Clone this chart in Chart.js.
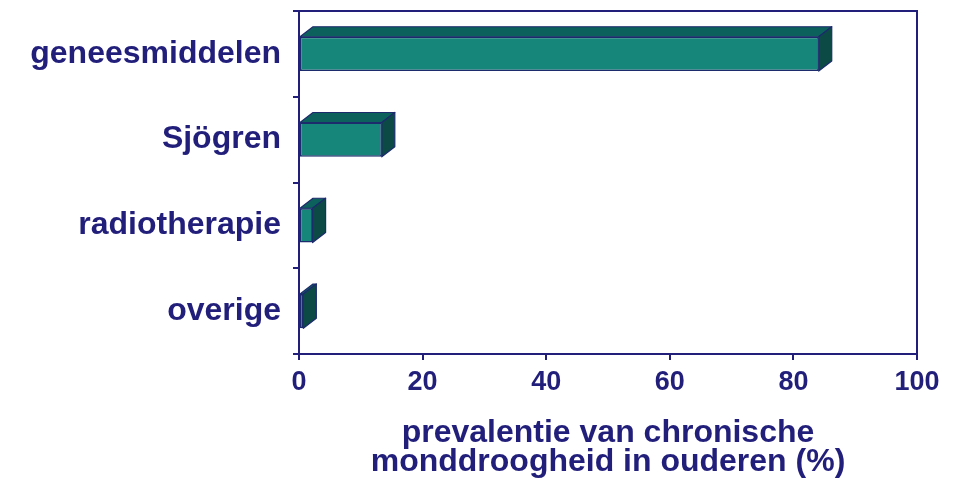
<!DOCTYPE html>
<html>
<head>
<meta charset="utf-8">
<script src="https://cdn.jsdelivr.net/npm/chart.js@4.4.1/dist/chart.umd.min.js"></script>
<style>
  html, body { margin: 0; padding: 0; background: #ffffff; }
  #wrap { width: 955px; height: 479px; }
</style>
</head>
<body>
<div id="wrap"><canvas id="droog"></canvas></div>
<script>
// data
const categories = ["geneesmiddelen", "Sjögren", "radiotherapie", "overige"];
const prevalence = [84.1, 13.4, 2.2, 0.7];
const xTicks = [0, 20, 40, 60, 80, 100];
const axisTitle = ["prevalentie van chronische", "monddroogheid in ouderen (%)"];

const navy = "#221f7b";
const front = "#17867a";
const topFace = "#0d615c";
const sideFace = "#0b4a45";
const outline = "#1c2b6c";

// fake 3d: top and side faces drawn next to each bar element
const bar3d = {
    id: "bar3d",
    afterDatasetsDraw: function (chart) {
        const ctx = chart.ctx;
        const dx = 13, dy = 10;
        chart.getDatasetMeta(0).data.forEach(function (bar) {
            const p = bar.getProps(["x", "y", "base", "height"], true);
            const t = p.y - p.height / 2;
            const b = p.y + p.height / 2;
            ctx.save();
            ctx.lineWidth = 1.2;
            ctx.strokeStyle = outline;
            ctx.lineJoin = "round";
            // top
            ctx.beginPath();
            ctx.moveTo(p.base, t);
            ctx.lineTo(p.base + dx, t - dy);
            ctx.lineTo(p.x + dx, t - dy);
            ctx.lineTo(p.x, t);
            ctx.closePath();
            ctx.fillStyle = topFace;
            ctx.fill();
            ctx.stroke();
            // side
            ctx.beginPath();
            ctx.moveTo(p.x, t);
            ctx.lineTo(p.x + dx, t - dy);
            ctx.lineTo(p.x + dx, b - dy);
            ctx.lineTo(p.x, b);
            ctx.closePath();
            ctx.fillStyle = sideFace;
            ctx.fill();
            ctx.stroke();
            ctx.restore();
        });
    },
    afterDraw: function (chart) {
        const a = chart.chartArea;
        const ctx = chart.ctx;
        ctx.save();
        ctx.strokeStyle = navy;
        ctx.lineWidth = 2;
        ctx.beginPath();
        ctx.moveTo(a.left, a.top);
        ctx.lineTo(a.right, a.top);
        ctx.lineTo(a.right, a.bottom);
        ctx.stroke();
        ctx.restore();
    },
};

document.addEventListener("DOMContentLoaded", (event) => {
    var ctx = document.getElementById("droog").getContext("2d");
    new Chart(ctx, {
        type: "bar",
        data: {
            labels: categories,
            datasets: [
                {
                    data: prevalence,
                    backgroundColor: front,
                    borderColor: outline,
                    borderWidth: 1.5,
                    borderSkipped: false,
                    categoryPercentage: 1,
                    barPercentage: 0.4,
                },
            ],
        },
        options: {
            indexAxis: "y",
            responsive: true,
            maintainAspectRatio: false,
            animation: false,
            layout: {
                padding: { top: 11, right: 38, left: 0, bottom: 0 },
            },
            scales: {
                x: {
                    min: 0,
                    max: 100,
                    afterBuildTicks: function (scale) {
                        scale.ticks = xTicks.map((v) => ({ value: v }));
                    },
                    afterFit: function (scale) {
                        scale.height = 125;
                    },
                    grid: {
                        drawOnChartArea: false,
                        drawTicks: true,
                        tickLength: 6,
                        color: navy,
                        lineWidth: 2,
                    },
                    border: { color: navy, width: 2 },
                    ticks: {
                        color: navy,
                        padding: 6,
                        maxRotation: 0,
                        font: { family: "'Liberation Sans', Arial, sans-serif", size: 27, weight: "bold" },
                    },
                    title: {
                        display: true,
                        text: axisTitle,
                        color: navy,
                        padding: { top: 0, bottom: 2 },
                        font: { family: "'Liberation Sans', Arial, sans-serif", size: 32, weight: "bold", lineHeight: 0.92 },
                    },
                },
                y: {
                    afterFit: function (scale) {
                        scale.width = 299;
                        scale.paddingTop = 0;
                        scale.paddingBottom = 0;
                    },
                    grid: {
                        drawOnChartArea: false,
                        drawTicks: true,
                        tickLength: 6,
                        color: navy,
                        lineWidth: 2,
                    },
                    border: { color: navy, width: 2 },
                    ticks: {
                        color: navy,
                        padding: 12,
                        font: { family: "'Liberation Sans', Arial, sans-serif", size: 32, weight: "bold" },
                    },
                },
            },
            plugins: {
                legend: { display: false },
                tooltip: { enabled: false },
            },
        },
        plugins: [bar3d],
    });
});
</script>
</body>
</html>
